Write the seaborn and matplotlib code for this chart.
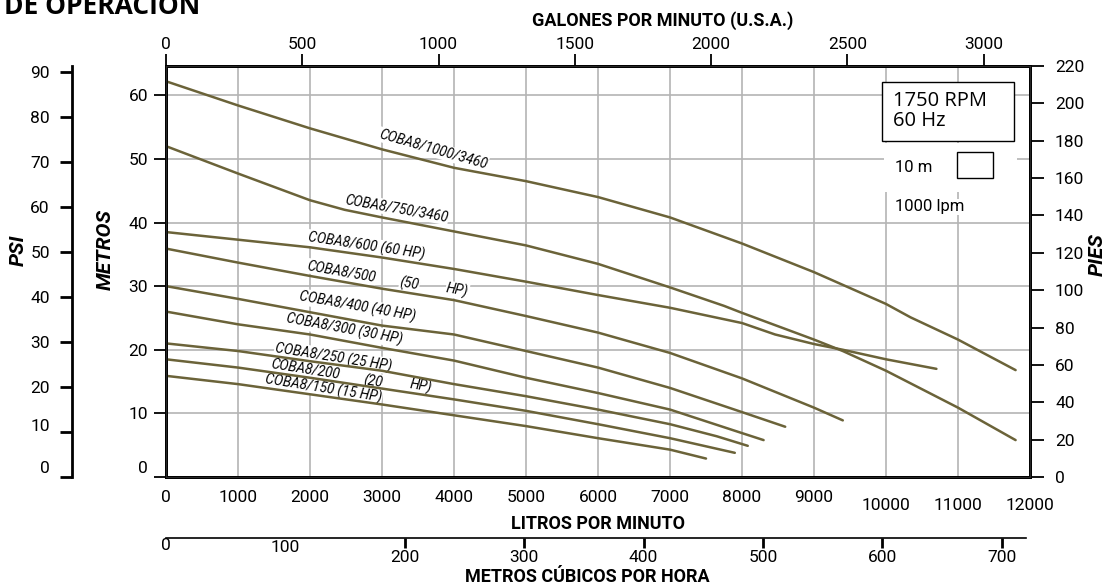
import numpy as np
import pandas as pd
import matplotlib
matplotlib.use("Agg")
import matplotlib.pyplot as plt
import matplotlib.transforms as mtrans
from matplotlib.patches import Rectangle
import seaborn as sns

# --- curve data: caudal (litros por minuto) vs altura (metros) ---
lpm_1000 = [0, 1000, 2000, 3000, 4000, 5000, 6000, 7000, 8000, 9000, 10000, 10340, 11000, 11800]
m_1000 = [62.2, 58.4, 54.8, 51.5, 48.6, 46.5, 44.0, 40.8, 36.7, 32.2, 27.2, 25.1, 21.6, 16.8]

lpm_750 = [0, 1000, 2000, 2480, 3000, 4000, 5000, 6000, 7000, 7750, 8000, 9000, 9400, 10000, 11000, 11800]
m_750 = [52.0, 47.7, 43.5, 42.0, 40.8, 38.6, 36.4, 33.5, 29.8, 26.9, 25.8, 21.6, 19.8, 16.7, 10.9, 5.8]

lpm_600 = [0, 1000, 2000, 3000, 4000, 5000, 6000, 7000, 8000, 8460, 9000, 9400, 10000, 10700]
m_600 = [38.5, 37.3, 36.1, 34.5, 32.7, 30.7, 28.6, 26.6, 24.2, 22.4, 20.9, 20.0, 18.5, 17.0]

lpm_500 = [0, 1000, 2000, 3000, 4000, 5000, 6000, 7000, 8000, 9000, 9400]
m_500 = [35.9, 33.7, 31.6, 29.6, 27.8, 25.3, 22.7, 19.5, 15.5, 10.9, 8.9]

lpm_400 = [0, 1000, 2000, 3000, 4000, 5000, 6000, 7000, 8000, 8600]
m_400 = [30.0, 28.0, 25.9, 23.8, 22.4, 19.8, 17.2, 14.0, 10.2, 7.9]

lpm_300 = [0, 1000, 2000, 3000, 4000, 5000, 6000, 7000, 8000, 8300]
m_300 = [26.0, 24.0, 22.4, 20.3, 18.3, 15.6, 13.2, 10.6, 6.9, 5.8]

lpm_250 = [0, 1000, 2000, 3000, 4000, 5000, 6000, 7000, 7650, 8080]
m_250 = [21.0, 19.8, 18.2, 16.7, 14.6, 12.7, 10.6, 8.3, 6.4, 4.9]

lpm_200 = [0, 1000, 2000, 3000, 4000, 5000, 6000, 7000, 7900]
m_200 = [18.5, 17.2, 15.6, 13.9, 12.2, 10.4, 8.3, 6.1, 3.8]

lpm_150 = [0, 1000, 2000, 3000, 4000, 5000, 6000, 7000, 7500]
m_150 = [15.9, 14.6, 13.0, 11.4, 9.7, 8.0, 6.1, 4.3, 2.9]

models = ["COBA8/1000/3460", "COBA8/750/3460", "COBA8/600", "COBA8/500", "COBA8/400",
          "COBA8/300", "COBA8/250", "COBA8/200", "COBA8/150"]
flows = [lpm_1000, lpm_750, lpm_600, lpm_500, lpm_400, lpm_300, lpm_250, lpm_200, lpm_150]
heads = [m_1000, m_750, m_600, m_500, m_400, m_300, m_250, m_200, m_150]

# curve label texts (text, lpm, metros, angle)
curve_labels = [
    ("COBA8/1000/3460", 3713, 51.5, -16),
    ("COBA8/750/3460", 3199, 42.2, -10),
    ("COBA8/600 (60 HP)", 2782, 36.3, -8.5),
    ("COBA8/500", 2434, 32.3, -10),
    ("(50", 3380, 30.3, -10),
    ("HP)", 4047, 29.3, -10),
    ("COBA8/400 (40 HP)", 2656, 26.8, -10),
    ("COBA8/300 (30 HP)", 2476, 23.2, -10.5),
    ("COBA8/250 (25 HP)", 2323, 18.8, -9),
    ("COBA8/200", 1933, 16.9, -9),
    ("(20", 2879, 15.0, -9),
    ("HP)", 3533, 14.3, -9),
    ("COBA8/150 (15 HP)", 2184, 13.9, -9),
]

lpm_ticks = list(range(0, 12001, 1000))
m_ticks = list(range(0, 61, 10))
psi_ticks = list(range(0, 91, 10))
ft_ticks = list(range(0, 221, 20))
gpm_ticks = list(range(0, 3001, 500))
m3h_ticks = list(range(0, 701, 100))

df = pd.concat([pd.DataFrame({"lpm": f, "metros": h, "modelo": n})
                for n, f, h in zip(models, flows, heads)], ignore_index=True)

sns.set_style("white")
plt.rcParams["font.family"] = ["Roboto", "DejaVu Sans"]
plt.rcParams.update({"text.color": "black", "axes.labelcolor": "black",
                     "xtick.color": "black", "ytick.color": "black"})

CURVE = "#6b6339"
GRID = "#b4b4b4"
TICK = 12.5
W, H = 1111, 586
fig = plt.figure(figsize=(W / 100, H / 100), dpi=100)


def fx(x):
    return x / W


def fy(y):
    return 1 - y / H


def shift(label, dx, dy):
    label.set_transform(label.get_transform() +
                        mtrans.ScaledTranslation(dx / 100, dy / 100, fig.dpi_scale_trans))


L, R, T, B = 166, 1030, 66, 477
ax = fig.add_axes([fx(L), fy(B), (R - L) / W, (B - T) / H])

sns.lineplot(data=df, x="lpm", y="metros", hue="modelo", palette=[CURVE] * len(models),
             estimator=None, sort=False, legend=False, lw=1.8, ax=ax, zorder=3)

ax.set_xlim(0, 12000)
ax.set_ylim(0, 64.6)
ax.set_xticks(lpm_ticks)
ax.set_yticks(m_ticks)
ax.set_xlabel("")
ax.set_ylabel("")
ax.set_axisbelow(True)
ax.grid(True, color=GRID, lw=1.2)
for s in ax.spines.values():
    s.set_linewidth(2)
    s.set_color("black")
ax.tick_params(axis="x", length=0, pad=9, labelsize=TICK)
ax.tick_params(axis="y", direction="out", length=9, width=1.3, pad=4, labelsize=TICK, left=True)

for txt, x, y, rot in curve_labels:
    ax.text(x, y, txt, rotation=rot, ha="center", va="center", fontsize=9.8, style="italic",
            rotation_mode="anchor", zorder=2,
            bbox=dict(facecolor="white", edgecolor="none", pad=0.5))

# right axis: PIES
axr = ax.twinx()
axr.set_ylim(0, 220)
axr.set_yticks(ft_ticks)
axr.tick_params(axis="y", direction="out", length=10, width=1.3, pad=8, labelsize=TICK, right=True)
for s in axr.spines.values():
    s.set_linewidth(2)
    s.set_color("black")

# top axis: GPM
axt = ax.twiny()
axt.set_xlim(0, 12000 / 3.785)
axt.set_xticks(gpm_ticks)
axt.tick_params(axis="x", direction="out", length=9, width=1.3, pad=1, labelsize=TICK, top=True)

# left axis: PSI
axp = fig.add_axes([fx(72), fy(B), 1 / W, (B - T) / H])
axp.set_facecolor("none")
axp.set_ylim(0, 411 / 4.5)
axp.set_yticks(psi_ticks)
axp.set_xticks([])
for k, s in axp.spines.items():
    s.set_visible(k == "left")
axp.spines["left"].set_linewidth(2)
axp.spines["left"].set_color("black")
axp.tick_params(axis="y", direction="out", length=9, width=2, pad=7, labelsize=TICK, left=True)

# bottom axis: m3/h
axm = fig.add_axes([fx(L), fy(538), 0.995 * (R - L) / W, 0.0001])
axm.set_facecolor("none")
axm.set_xlim(0, 12000 * 0.06)
axm.set_xticks(m3h_ticks)
axm.set_yticks([])
for k, s in axm.spines.items():
    s.set_visible(k == "bottom")
axm.spines["bottom"].set_linewidth(1.2)
axm.spines["bottom"].set_color("black")
axm.tick_params(axis="x", direction="out", length=7, width=2, pad=2, labelsize=TICK, bottom=True)

# label quirks of the original
for t in ax.xaxis.get_major_ticks()[10:]:
    shift(t.label1, 0, -9)
shift(ax.yaxis.get_major_ticks()[0].label1, 0, 10)
shift(axp.yaxis.get_major_ticks()[0].label1, 0, 10)
shift(axp.yaxis.get_major_ticks()[1].label1, 0, 7)
mt = axm.xaxis.get_major_ticks()
for t in mt[:2]:
    t.tick1line.set_visible(False)
shift(mt[0].label1, 0, 12)
shift(mt[1].label1, 0, 10)

# axis titles
bold = dict(fontweight="bold", fontsize=13)
fig.text(fx(663), fy(21), "GALONES POR MINUTO (U.S.A.)", ha="center", va="center", **bold)
fig.text(fx(598), fy(524), "LITROS POR MINUTO", ha="center", va="center", **bold)
fig.text(fx(587), fy(577), "METROS CÚBICOS POR HORA", ha="center", va="center", **bold)
rot_lab = dict(rotation=90, ha="center", va="center", fontsize=15, fontweight="bold",
               style="italic")
fig.text(fx(18), fy(250), "PSI", **rot_lab)
fig.text(fx(105), fy(250), "METROS", **rot_lab)
fig.text(fx(1097), fy(255), "PIES", **rot_lab)
fig.text(fx(4), fy(14), "DE OPERACION", ha="left", va="baseline", fontsize=19,
         fontweight="bold", family="Open Sans")

# legend / scale box
ax.add_patch(Rectangle((fx(884), fy(192)), (1017 - 884) / W, (192 - 143) / H,
                       transform=fig.transFigure, facecolor="white", edgecolor="none", zorder=1))
ax.add_patch(Rectangle((fx(882), fy(141)), (1014 - 882) / W, (141 - 82) / H,
                       transform=fig.transFigure, facecolor="white", edgecolor="black",
                       lw=1, zorder=4))
ax.text(fx(893), fy(111), "1750 RPM\n60 Hz", transform=fig.transFigure, ha="left",
        va="center", fontsize=14.5, family="Open Sans", linespacing=1.0, zorder=5)
ax.add_patch(Rectangle((fx(957), fy(178)), (993 - 957) / W, (178 - 152) / H,
                       transform=fig.transFigure, facecolor="white", edgecolor="black",
                       lw=1, zorder=4))
ax.text(fx(895), fy(168), "10 m", transform=fig.transFigure, ha="left", va="center",
        fontsize=12, zorder=5)
ax.text(fx(895), fy(207), "1000 lpm", transform=fig.transFigure, ha="left", va="center",
        fontsize=12, zorder=5, bbox=dict(facecolor="white", edgecolor="none", pad=0.5))

fig.savefig("out.png", dpi=100, facecolor="white")
